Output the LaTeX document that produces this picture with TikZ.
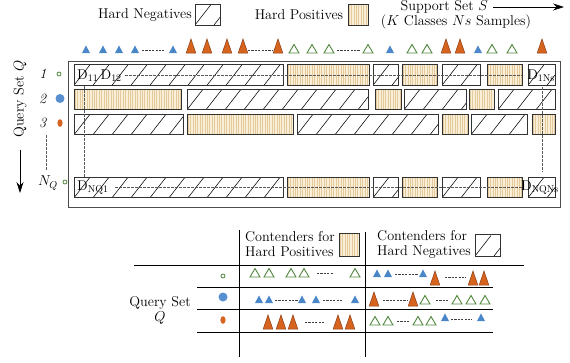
\documentclass[tikz,border=0pt]{standalone}
\usepackage{fontspec}
\usetikzlibrary{arrows.meta}
\definecolor{beige}{RGB}{249,238,215}
\definecolor{tanl}{RGB}{228,202,155}
\definecolor{cborder}{RGB}{50,50,50}
\definecolor{tblue}{RGB}{74,134,200}
\definecolor{torange}{RGB}{214,100,30}
\definecolor{torangeD}{RGB}{140,60,20}
\definecolor{tgreen}{RGB}{80,135,60}
\definecolor{dotblue}{RGB}{88,143,208}
\tikzset{
  hcell/.style={draw=cborder, line width=0.7pt, inner sep=0pt, minimum height=20.5pt,
    path picture={\foreach \k in {0,...,13} \draw[line width=0.55pt,black] ([xshift=\k*19pt]path picture bounding box.south west) -- ++(16pt,20.5pt);}},
  scell/.style={draw=cborder, line width=0.7pt, fill=beige, inner sep=0pt, minimum height=20.5pt,
    path picture={\foreach \k in {0,...,48} \draw[line width=0.55pt,tanl] ([xshift=\k*2.4pt+1pt]path picture bounding box.south west) -- ++(0pt,25pt);}},
  dline/.style={gray!70!black, line width=0.6pt, dash pattern=on 2.5pt off 1.5pt},
  tdash/.style={black!75, line width=0.6pt, dash pattern=on 2.2pt off 1.2pt},
  lbl/.style={inner sep=0pt},
  tline/.style={black, line width=0.8pt},
}
\newcommand{\HC}[4]{\node[hcell, minimum width={(#3-#2)*1pt}] (#1) at ({(#2+#3)/2},#4) {};}
\newcommand{\SC}[4]{\node[scell, minimum width={(#3-#2)*1pt}] (#1) at ({(#2+#3)/2},#4) {};}
\newcommand{\tB}[2]{\fill[tblue] ({#1-4},#2) -- ({#1+4},#2) -- (#1,{#2-7.5}) -- cycle;}
\newcommand{\tO}[2]{\filldraw[fill=torange, draw=torangeD, line width=0.5pt] ({#1-4.8},#2) -- ({#1+4.8},#2) -- (#1,{#2-14}) -- cycle;}
\newcommand{\tG}[2]{\draw[tgreen, line width=0.9pt] ({#1-5},#2) -- ({#1+5},#2) -- (#1,{#2-8.5}) -- cycle;}
\begin{document}
\begin{tikzpicture}[x=1pt,y=-1pt, font=\fontsize{14.2}{15}\selectfont]
\useasboundingbox (0,0) rectangle (570,362);

% ---------- top legend ----------
\node[lbl] (hn) at (145,15) {Hard Negatives};
\node[hcell, minimum width=25pt, minimum height=21pt] (hnbox) at (207.5,14.5) {};
\node[lbl] (hp) at (299,15) {Hard Positives};
\node[scell, minimum width=20pt, minimum height=21pt] (hpbox) at (358,14.5) {};
\node[lbl, anchor=east] (ss) at (488,7) {Support Set $S$};
\coordinate (sarr) at (564,7);
\draw[line width=0.7pt, -{Stealth[length=11pt,width=7pt]}] ([xshift=5pt]ss.east) -- (sarr);
\node[lbl] (ssk) at (456,22) {($K$ Classes $Ns$ Samples)};

% ---------- top triangles ----------
\foreach \x in {86,103,119,135,173} {\tB{\x}{53}}
\foreach \x in {191,207,227,243,278} {\tO{\x}{53}}
\foreach \x in {294,312,329,368} {\tG{\x}{53}}
\tB{390}{53} \tG{412}{53} \tG{427}{53} \tO{446}{53} \tO{460}{53}
\tB{478}{53} \tG{492}{53} \tG{512}{53} \tO{542}{53}
\draw[tdash] (142,50) -- (164,50);
\draw[tdash] (248,50) -- (272,50);
\draw[tdash] (337,50) -- (360,50);

% ---------- frame ----------
\draw[line width=1pt, black!70] (68,61) rectangle (560,207);

% ---------- row 1 ----------
\HC{a1}{74}{283}{75} \SC{a2}{287}{369}{75} \HC{a3}{373}{398}{75} \SC{a4}{402}{437}{75}
\HC{a5}{442}{480}{75} \SC{a6}{487}{522}{75} \HC{a7}{528}{555}{75}
% ---------- row 2 ----------
\SC{b1}{74}{181}{99.5} \HC{b2}{187}{368}{99.5} \SC{b3}{375}{401}{99.5} \HC{b4}{404}{466}{99.5}
\SC{b5}{469}{494}{99.5} \HC{b6}{498}{555}{99.5}
% ---------- row 3 ----------
\HC{c1}{74}{183}{124.5} \SC{c2}{187}{293}{124.5} \HC{c3}{297}{438}{124.5} \SC{c4}{442}{468}{124.5}
\HC{c5}{471}{527}{124.5} \SC{c6}{532}{555}{124.5}
% ---------- row NQ ----------
\HC{d1}{74}{283}{187.5} \SC{d2}{287}{369}{187.5} \HC{d3}{373}{398}{187.5} \SC{d4}{402}{437}{187.5}
\HC{d5}{442}{480}{187.5} \SC{d6}{487}{522}{187.5} \HC{d7}{528}{555}{187.5}

% dashed guides
\draw[dline] (125,75) -- (a6.east);
\draw[dline] (115,187.5) -- (d6.east);
\draw[dline] (84,86) -- (84,177);
\draw[dline] (542,87) -- (542,172);

% D labels
\node[lbl, anchor=west] (d11) at (77,76) {D$_{\mathrm{11}}$\,D$_{\mathrm{12}}$};
\node[lbl] (d1ns) at (541,76) {D$_{\mathrm{1Ns}}$};
\node[lbl, anchor=west] (dnq1) at (77,188) {D$_{\mathrm{NQ1}}$};
\node[lbl] (dnqns) at (540,188) {D$_{\mathrm{NQNs}}$};

% ---------- left labels ----------
\node[lbl, rotate=90] (qs) at (20,99) {Query Set $Q$};
\coordinate (qarr) at (20,193);
\draw[line width=0.7pt, -{Stealth[length=11pt,width=7pt]}] (20,150) -- (qarr);
\node[lbl] (l1) at (43,74) {\textit{1}};
\node[lbl] (l2) at (43,98.5) {\textit{2}};
\node[lbl] (l3) at (43,123) {\textit{3}};
\node[lbl] (lnq) at (48,183) {$N_Q$};
\draw[dline] (46,135) -- (46,170);
\draw[tgreen, line width=0.8pt] (59,74) circle (2);
\fill[dotblue] (60,98.5) circle (4.5);
\fill[torange] (60,123) ellipse (2.6 and 3.8);
\draw[tgreen, line width=0.8pt] (65,182) circle (2);

% ---------- bottom table ----------
\draw[tline] (239,230) -- (239,357);
\draw[tline] (365,232) -- (365,357);
\draw[tline] (134,265) -- (524,265);
\draw[tline] (197,287) -- (493,287);
\draw[tline] (197,309) -- (493,309);
\draw[tline] (197,332) -- (493,332);

\node[lbl, align=left] (chp) at (290,244) {Contenders for\\Hard Positives};
\node[scell, minimum width=20pt, minimum height=23pt] (chpbox) at (349,244.5) {};
\node[lbl, align=left] (chn) at (424,244) {Contenders for\\Hard Negatives};
\node[hcell, minimum width=25pt, minimum height=22pt] (chnbox) at (487.5,245) {};

\node[lbl, align=center] (qs2) at (160,310) {Query Set\\$Q$};

\draw[tgreen, line width=0.8pt] (223,276) circle (2);
\fill[dotblue] (223,297) circle (4.5);
\fill[torange] (223,320) ellipse (2.6 and 3.8);

% row a
\foreach \x in {255,269,291,304,355} {\tG{\x}{277}}
\draw[tdash] (317,273) -- (333,273);
\foreach \x in {377,388,423} {\tB{\x}{277}}
\draw[tdash] (395,274) -- (418,274);
\foreach \x in {435,473,484} {\tO{\x}{285}}
\draw[tdash] (445,277) -- (466,277);
% row b
\foreach \x in {259,269,302,316,355} {\tB{\x}{303}}
\draw[tdash] (275,300) -- (298,300);
\draw[tdash] (323,300) -- (342,300);
\foreach \x in {374,413} {\tO{\x}{306}}
\draw[tdash] (383,300) -- (407,300);
\foreach \x in {425,457,471,485} {\tG{\x}{304}}
\draw[tdash] (436,300) -- (449,300);
% row c
\foreach \x in {268,281,293,338,350} {\tO{\x}{329}}
\draw[tdash] (305,322) -- (325,322);
\foreach \x in {375,388,418,431} {\tG{\x}{325}}
\draw[tdash] (397,321) -- (410,321);
\foreach \x in {445,481} {\tB{\x}{321}}
\draw[tdash] (451,319) -- (472,319);
\end{tikzpicture}
\end{document}
